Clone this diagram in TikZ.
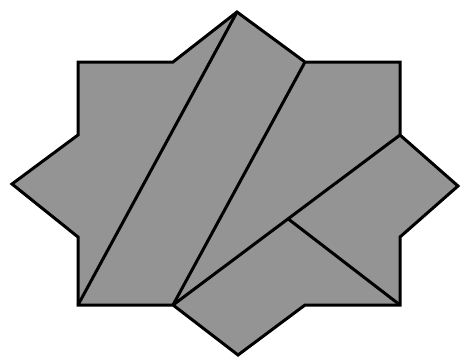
\documentclass[tikz,border=0pt]{standalone}
\usetikzlibrary{calc}
\definecolor{tilegray}{RGB}{148,148,148}
\begin{document}
\begin{tikzpicture}[x=1pt, y=-1pt, line width=3pt, line join=miter,
  piece/.style={draw=black, fill=tilegray},
  cut/.style={draw=black}]
  \useasboundingbox (0,0) rectangle (461,360);
  % outline of the star
  \coordinate (T) at (237,12);
  \coordinate (R1) at (305,62);
  \coordinate (R2) at (400,62);
  \coordinate (R3) at (400,135);
  \coordinate (Rp) at (458,186);
  \coordinate (R4) at (400,237);
  \coordinate (R5) at (400,305);
  \coordinate (B1) at (305,305);
  \coordinate (Bp) at (238,355);
  \coordinate (B2) at (173,305);
  \coordinate (L5) at (78,305);
  \coordinate (L4) at (78,237);
  \coordinate (Lp) at (12,184);
  \coordinate (L3) at (78,135);
  \coordinate (L1) at (78,62);
  \coordinate (L2) at (173,62);
  % inner corner
  \coordinate (M) at ($(B2)!0.507!(R3)$);
  \path[piece] (T) -- (R1) -- (R2) -- (R3) -- (Rp) -- (R4) -- (R5) -- (B1)
    -- (Bp) -- (B2) -- (L5) -- (L4) -- (Lp) -- (L3) -- (L1) -- (L2) -- cycle;
  % cuts
  \draw[cut] (T) -- (L5);
  \draw[cut] (R1) -- (B2);
  \draw[cut] (B2) -- (R3);
  \draw[cut] (M) -- (R5);
\end{tikzpicture}
\end{document}
